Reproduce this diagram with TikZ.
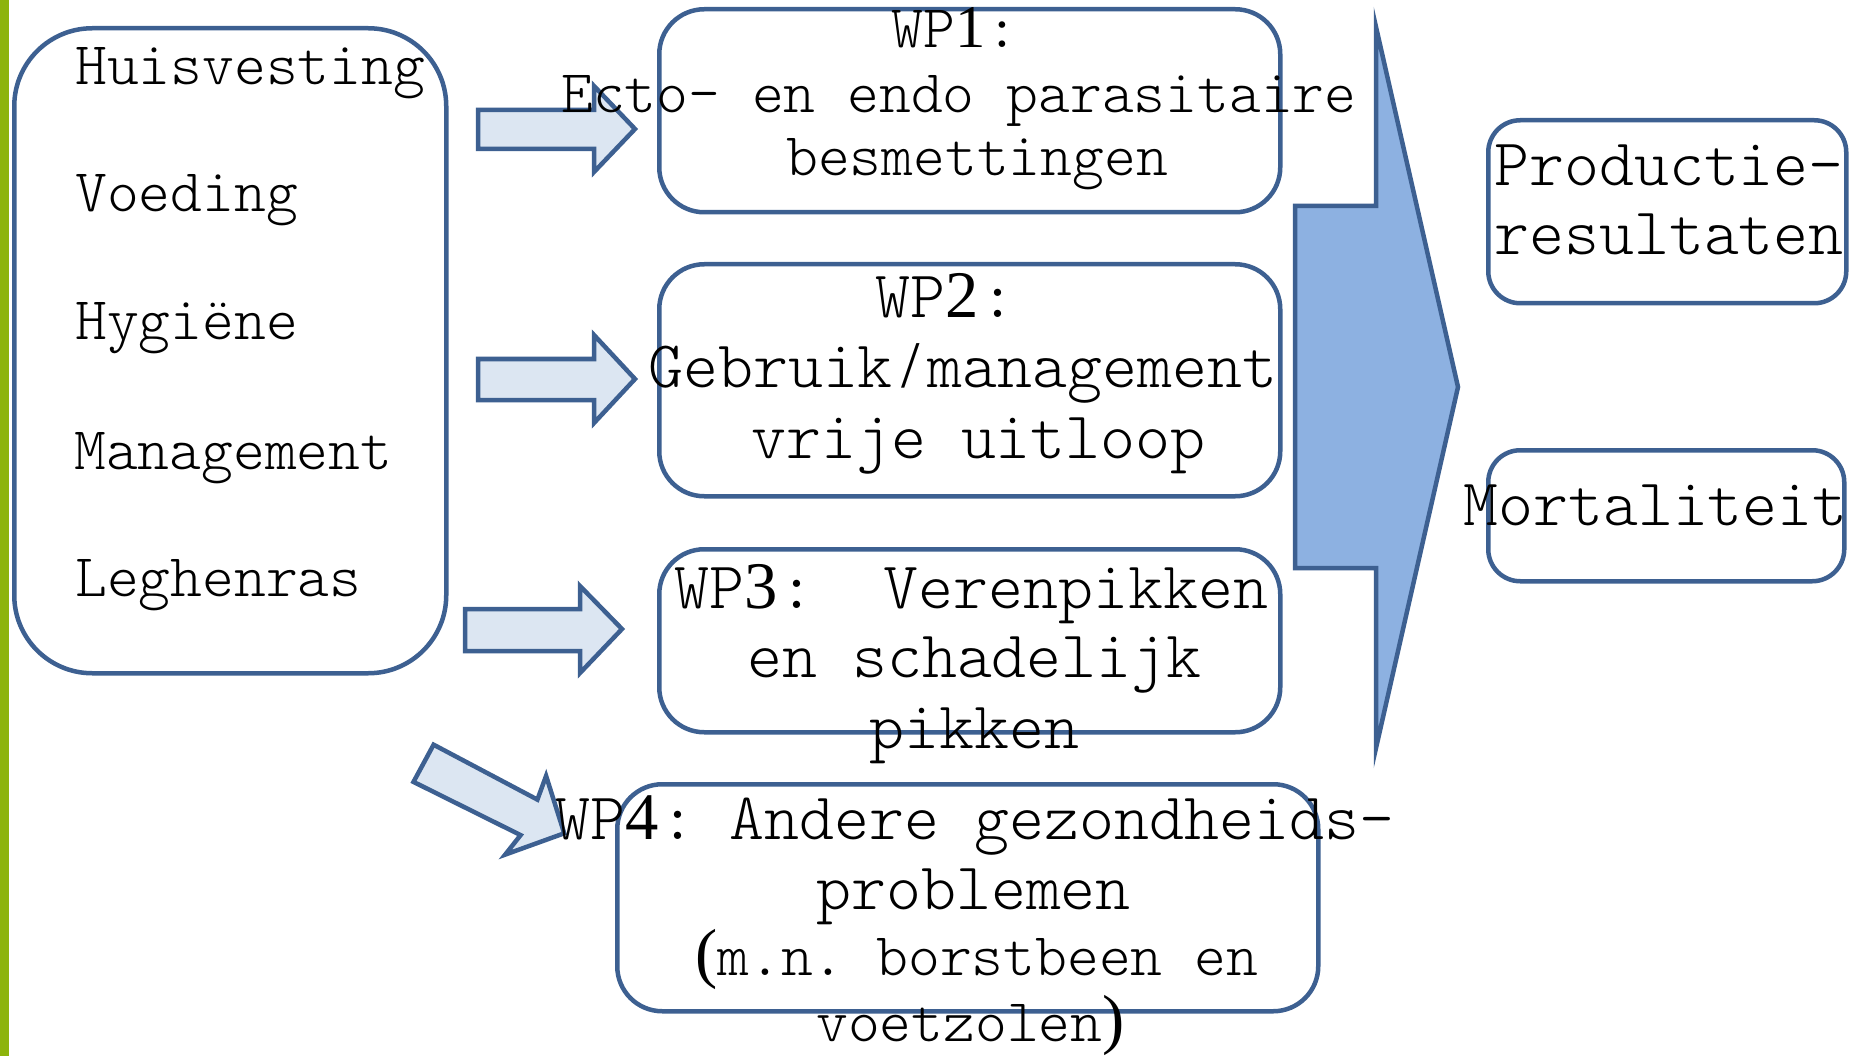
\documentclass[tikz,border=0pt]{standalone}
\usepackage{fontspec}
\setmonofont{lmmonolt10-regular.otf}
\newfontfamily\dig{Liberation Serif}
\newcommand\sr[1]{\makebox[0.525em][c]{\dig #1}}
\definecolor{edge}{RGB}{61,96,145}
\definecolor{lightfill}{RGB}{220,230,242}
\definecolor{bigfill}{RGB}{141,177,225}
\definecolor{barcol}{RGB}{141,180,12}
\tikzset{
  boxstyle/.style={draw=edge, line width=4.5pt, fill=white, inner sep=0pt, anchor=north west},
  arrowshape/.style={draw=edge, line width=4.5pt, fill=lightfill, line join=miter},
  txtA/.style={inner sep=0pt, anchor=base west, font=\ttfamily\frenchspacing\fontsize{60.6}{66}\selectfont},
  txtB/.style={inner sep=0pt, anchor=base west, font=\ttfamily\frenchspacing\fontsize{66.6}{72}\selectfont},
}
\begin{document}
\begin{tikzpicture}[x=1pt,y=-1pt]
\useasboundingbox (0,0) rectangle (1849,1056);
\fill[white] (0,0) rectangle (1849,1056);
\fill[barcol] (0,0) rectangle (9,1056);

% boxes
\node[boxstyle, rounded corners=78pt, minimum width=432pt, minimum height=645pt] (left) at (12,26) {};
\node[boxstyle, rounded corners=45pt, minimum width=621pt, minimum height=203pt] (wp1) at (657,7) {};
\node[boxstyle, rounded corners=45pt, minimum width=621pt, minimum height=232pt] (wp2) at (657,262) {};
\node[boxstyle, rounded corners=45pt, minimum width=621pt, minimum height=183pt] (wp3) at (657,547) {};
\node[boxstyle, rounded corners=45pt, minimum width=701pt, minimum height=227pt] (wp4) at (615,782) {};
\node[boxstyle, rounded corners=32pt, minimum width=358pt, minimum height=183pt] (prod) at (1486,118) {};
\node[boxstyle, rounded corners=32pt, minimum width=356pt, minimum height=131pt] (mort) at (1486,448) {};

% block arrows
\draw[arrowshape] (478,110) -- (594,110) -- (594,86) -- (635,129) -- (594,172) -- (594,149) -- (478,149) -- cycle;
\draw[arrowshape] (478,359) -- (594,359) -- (594,335) -- (635,379) -- (594,423) -- (594,400) -- (478,400) -- cycle;
\draw[arrowshape] (465,609) -- (580,609) -- (580,586) -- (622,629) -- (580,673) -- (580,651) -- (465,651) -- cycle;
\draw[arrowshape] (433.6,744.7) -- (537.4,799.6) -- (546.1,775.9) -- (564.2,833.3) -- (505.2,854.6) -- (520.6,835.1) -- (413.5,781.9) -- cycle;
\draw[draw=edge, line width=4.5pt, fill=bigfill, line join=miter] (1295,206) -- (1376,206) -- (1376,27) -- (1458,387) -- (1376,748) -- (1376,568) -- (1295,568) -- cycle;

% left texts
\node[txtA] (t1) at (75,85) {Huisvesting};
\node[txtA] (t2) at (75,212) {Voeding};
\node[txtA] (t3) at (75,340) {Hygiëne};
\node[txtA] (t4) at (74,469) {Management};
\node[txtA] (t5) at (75,596) {Leghenras};

% WP1
\node[txtA] (w1a) at (891,48) {WP\sr{1}:};
\node[txtA] (w1b) at (561,113) {Ecto- en endo parasitaire};
\node[txtA] (w1c) at (786,176) {besmettingen};

% WP2
\node[txtB] (w2a) at (875,318) {WP\sr{2}:};
\node[txtB] (w2b) at (648,387) {Gebruik\sr{/}management};
\node[txtB] (w2c) at (751,458) {vrije uitloop};

% WP3
\node[txtB] (w3a) at (674,608) {WP\sr{3}:~~Verenpikken};
\node[txtB] (w3b) at (747,677) {en schadelijk};
\node[txtB] (w3c) at (869,748) {pikken};

% WP4
\node[txtB] (w4a) at (555,839) {WP\sr{4}: Andere gezondheids-};
\node[txtB] (w4b) at (816,909) {problemen};
\node[txtA] (w4c) at (695,975) {{\dig\fontsize{66.6}{72}\selectfont (}m.n. borstbeen en};
\node[txtA] (w4d) at (816,1041) {voetzolen{\dig\fontsize{66.6}{72}\selectfont )}};

% right texts
\node[txtB] (r1) at (1494,186) {Productie-};
\node[txtB] (r2) at (1494,255) {resultaten};
\node[txtB] (r3) at (1463,525) {Mortaliteit};
\end{tikzpicture}
\end{document}
